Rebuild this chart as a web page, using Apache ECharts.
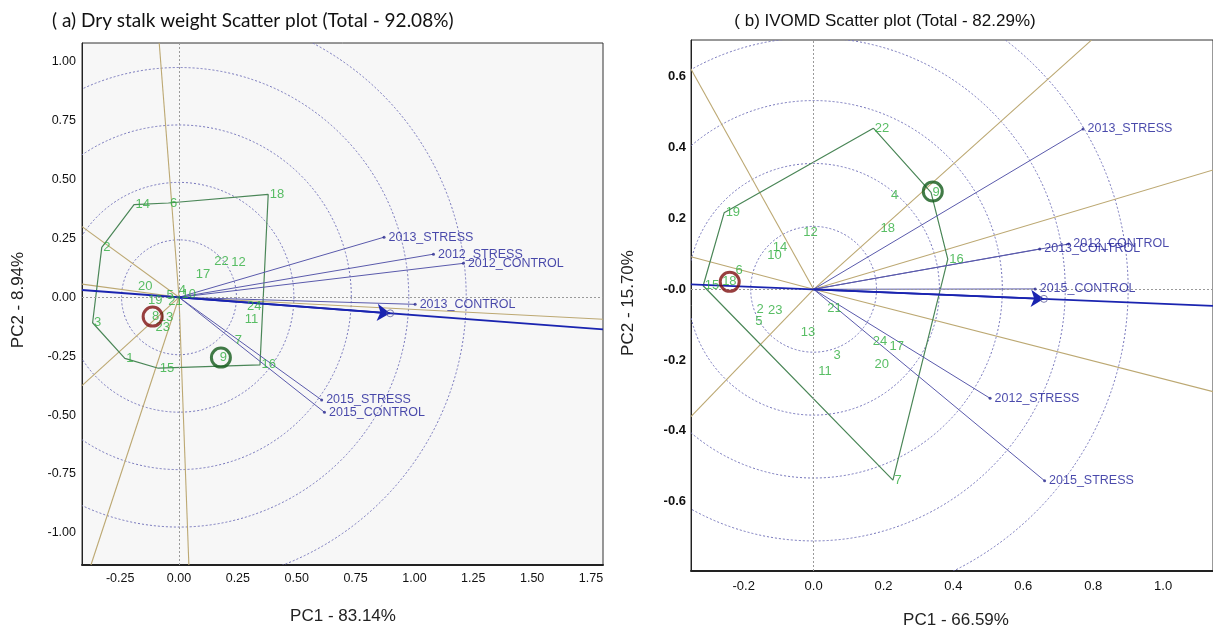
<!DOCTYPE html>
<html><head><meta charset="utf-8">
<script src="https://cdn.jsdelivr.net/npm/echarts@6/dist/echarts.min.js"></script>
<style>html,body{margin:0;padding:0;background:#fff}#c{width:1213px;height:629px}</style>
</head><body><div id="c"></div>
<script>
// ---------- Plot (a): Dry stalk weight ----------
const aGenotypes = ['1','2','3','4','5','6','7','8','9','10','11','12','13','14','15','16','17','18','19','20','21','22','23','24'];
const aGenoX = [-0.230,-0.328,-0.367,-0.007,-0.059,-0.045,0.230,-0.121,0.167,0.004,0.273,0.216,-0.092,-0.191,-0.088,0.344,0.065,0.379,-0.138,-0.180,-0.052,0.143,-0.106,0.283];
const aGenoY = [-0.259,0.212,-0.108,0.028,0.006,0.400,-0.181,-0.082,-0.256,0.014,-0.093,0.147,-0.087,0.393,-0.301,-0.287,0.099,0.437,-0.014,0.048,-0.019,0.151,-0.127,-0.040];
const aHull = ['18','6','14','2','3','1','15','16','18'];
const aEnvNames = ['2013_STRESS','2012_STRESS','2012_CONTROL','2013_CONTROL','2015_STRESS','2015_CONTROL'];
const aEnvX = [0.871,1.081,1.208,1.003,0.606,0.618];
const aEnvY = [0.255,0.183,0.144,-0.030,-0.436,-0.488];
const aMeanEnv = [0.897,-0.068];
const aAxisEnds = [[-0.412,0.031],[1.801,-0.136]];
const aRayX = [1.801,-0.412,-0.412,-0.084,-0.412,-0.374,0.042];
const aRayY = [-0.093,0.056,0.300,1.079,-0.375,-1.136,-1.136];
const aRings = [0.244,0.488,0.732,0.976,1.220];
const aMarkX = [-0.112,0.178];
const aMarkY = [-0.082,-0.256];
const aXRange = [-0.412,1.801];
const aYRange = [-1.136,1.079];
const aXTicks = [-0.25,0,0.25,0.5,0.75,1,1.25,1.5,1.75];
const aXTickLabels = ['-0.25','0.00','0.25','0.50','0.75','1.00','1.25','1.50','1.75'];
const aYTicks = [-1,-0.75,-0.5,-0.25,0,0.25,0.5,0.75,1];
const aYTickLabels = ['-1.00','-0.75','-0.50','-0.25','0.00','0.25','0.50','0.75','1.00'];

// ---------- Plot (b): IVOMD ----------
const bGenotypes = ['1','2','3','4','5','6','7','8','9','10','11','12','13','14','15','16','17','18','19','20','21','22','23','24'];
const bGenoX = [-0.266,-0.168,0.053,0.217,-0.171,-0.228,0.227,-0.246,0.336,-0.137,0.009,-0.034,-0.041,-0.121,-0.316,0.384,0.213,0.187,-0.256,0.170,0.035,0.171,-0.135,0.165];
const bGenoY = [0.021,-0.056,-0.186,0.264,-0.090,0.053,-0.539,0.021,0.274,0.095,-0.231,0.161,-0.121,0.118,0.010,0.085,-0.162,0.172,0.216,-0.212,-0.054,0.455,-0.061,-0.146];
const bHull = ['22','9','16','7','15','19','22'];
const bEnvNames = ['2013_STRESS','2012_CONTROL','2013_CONTROL','2015_CONTROL','2012_STRESS','2015_STRESS'];
const bEnvX = [0.771,0.730,0.647,0.634,0.505,0.661];
const bEnvY = [0.453,0.128,0.114,0.001,-0.308,-0.541];
const bMeanEnv = [0.659,-0.027];
const bAxisEnds = [[-0.351,0.014],[1.143,-0.047]];
const bRayX = [-0.351,-0.351,0.795,1.143,1.143,-0.351];
const bRayY = [0.622,0.092,0.704,0.337,-0.289,-0.360];
const bRings = [0.18,0.36,0.54,0.72,0.90];
const bMarkX = [-0.240,0.341];
const bMarkY = [0.021,0.276];
const bXRange = [-0.3508,1.1428];
const bYRange = [-0.7958,0.7042];
const bXTicks = [-0.2,0,0.2,0.4,0.6,0.8,1.0];
const bXTickLabels = ['-0.2','0.0','0.2','0.4','0.6','0.8','1.0'];
const bYTicks = [-0.6,-0.4,-0.2,0,0.2,0.4,0.6];
const bYTickLabels = ['-0.6','-0.4','-0.2','-0.0','0.2','0.4','0.6'];

const FONT = 'Liberation Sans, Arial, sans-serif';
const GREEN_TXT = '#2fae3e', HULL = '#4a8657', TAN = '#bca872', VEC = '#5a5aac', ENVTXT = '#1c1c96', AXISBLUE = '#1a24b0', RING = '#7676bc';

function fmt(ticks, labels){
  return v => { const i = ticks.findIndex(t => Math.abs(t - v) < 1e-9); return i >= 0 ? labels[i] : ''; };
}

function plotSeries(gi, P){
  const idx = {};
  P.geno.forEach((g,i)=>idx[g]=i);
  const S = [];
  S.push({type:'custom', xAxisIndex:gi, yAxisIndex:gi, clip:true, silent:true, z:1,
    data: P.rings.map(r=>[r,0]),
    renderItem:(params, api)=>{
      const c = api.coord([0,0]); const s = api.size([api.value(0), api.value(0)]);
      return {type:'circle', shape:{cx:c[0], cy:c[1], r:s[0]},
        style:{fill:'none', stroke:RING, lineWidth:1, lineDash:[2,2]}};
    }});
  S.push({type:'lines', coordinateSystem:'cartesian2d', xAxisIndex:gi, yAxisIndex:gi, silent:true, z:2,
    lineStyle:{color:TAN, width:1.1, opacity:1, curveness:0},
    data: P.rayX.map((x,i)=>({coords:[[0,0],[x,P.rayY[i]]]}))});
  S.push({type:'line', xAxisIndex:gi, yAxisIndex:gi, silent:true, z:3, symbol:'none',
    lineStyle:{color:HULL, width:1.2},
    data: P.hull.map(g=>[P.x[idx[g]], P.y[idx[g]]]),
    markLine:{silent:true, symbol:'none', label:{show:false}, animation:false,
      lineStyle:{color:'#9a9a9a', type:[2,2], width:1},
      data:[{xAxis:0},{yAxis:0}]}});
  S.push({type:'lines', coordinateSystem:'cartesian2d', xAxisIndex:gi, yAxisIndex:gi, silent:true, z:4,
    lineStyle:{color:VEC, width:1, opacity:1},
    data: P.envX.map((x,i)=>({coords:[[0,0],[x,P.envY[i]]]}))});
  S.push({type:'scatter', xAxisIndex:gi, yAxisIndex:gi, silent:true, z:6, symbolSize:3,
    itemStyle:{color:'#2a2a90'},
    label:{show:true, position:'right', distance:3, formatter:'{b}', color:ENVTXT, fontSize:12.5, fontFamily:FONT},
    data: P.envNames.map((n,i)=>({name:n, value:[P.envX[i], P.envY[i]]}))});
  S.push({type:'lines', coordinateSystem:'cartesian2d', xAxisIndex:gi, yAxisIndex:gi, silent:true, z:5,
    lineStyle:{color:AXISBLUE, width:1.8, opacity:1},
    data:[{coords:P.axisEnds}]});
  S.push({type:'lines', coordinateSystem:'cartesian2d', xAxisIndex:gi, yAxisIndex:gi, silent:true, z:5,
    symbol:['none','arrow'], symbolSize:13,
    lineStyle:{color:AXISBLUE, width:1.8, opacity:1},
    data:[{coords:[[0,0],P.mean]}]});
  S.push({type:'scatter', xAxisIndex:gi, yAxisIndex:gi, silent:true, z:6, symbol:'circle', symbolSize:7,
    itemStyle:{color:'rgba(0,0,0,0)', borderColor:'#5a5a9a', borderWidth:1},
    data:[P.mean]});
  S.push({type:'scatter', xAxisIndex:gi, yAxisIndex:gi, silent:true, z:8, symbolSize:1,
    itemStyle:{color:'rgba(0,0,0,0)'},
    label:{show:true, position:'right', distance:1, formatter:'{b}', color:GREEN_TXT, fontSize:13, fontFamily:FONT},
    data: P.geno.map((g,i)=>({name:g, value:[P.x[i], P.y[i]]}))});
  S.push({type:'scatter', xAxisIndex:gi, yAxisIndex:gi, silent:true, z:9, symbol:'circle', symbolSize:19,
    data:[
      {value:[P.markX[0],P.markY[0]], itemStyle:{color:'rgba(0,0,0,0)', borderColor:'#7e0f0f', borderWidth:3}},
      {value:[P.markX[1],P.markY[1]], itemStyle:{color:'rgba(0,0,0,0)', borderColor:'#115a19', borderWidth:3}}
    ]});
  return S;
}

const A = {geno:aGenotypes, x:aGenoX, y:aGenoY, hull:aHull, envNames:aEnvNames, envX:aEnvX, envY:aEnvY, mean:aMeanEnv, axisEnds:aAxisEnds, rayX:aRayX, rayY:aRayY, rings:aRings, markX:aMarkX, markY:aMarkY};
const B = {geno:bGenotypes, x:bGenoX, y:bGenoY, hull:bHull, envNames:bEnvNames, envX:bEnvX, envY:bEnvY, mean:bMeanEnv, axisEnds:bAxisEnds, rayX:bRayX, rayY:bRayY, rings:bRings, markX:bMarkX, markY:bMarkY};

function xAx(gi, range, ticks, labels){
  return {type:'value', gridIndex:gi, min:range[0], max:range[1], splitLine:{show:false},
    axisTick:{show:false},
    axisLine:{show:true, onZero:false, lineStyle:{color:'#222', width:2}},
    axisLabel:{customValues:ticks, formatter:fmt(ticks,labels), color:'#111', fontSize:gi===0?12.5:13, fontFamily:FONT, margin:gi===0?7:9}};
}
function yAx(gi, range, ticks, labels){
  return {type:'value', gridIndex:gi, min:range[0], max:range[1], splitLine:{show:false},
    axisTick:{show:false},
    axisLine:{show:true, onZero:false, lineStyle:{color:'#222', width:1}},
    axisLabel:{customValues:ticks, formatter:fmt(ticks,labels), color:'#111', fontSize:gi===0?12.5:13, fontWeight:gi===0?'normal':'bold', fontFamily:FONT, margin:gi===0?6:5}};
}

const chart = echarts.init(document.getElementById('c'), null, {renderer:'canvas'});
chart.setOption({
  animation:false,
  backgroundColor:'#fff',
  grid:[
    {left:82, top:43, width:521, height:522, show:true, backgroundColor:'#f7f7f7', borderColor:'#333', borderWidth:1, containLabel:false},
    {left:691, top:40, width:525, height:531, show:true, backgroundColor:'#ffffff', borderColor:'#333', borderWidth:1, containLabel:false}
  ],
  xAxis:[xAx(0,aXRange,aXTicks,aXTickLabels), xAx(1,bXRange,bXTicks,bXTickLabels)],
  yAxis:[yAx(0,aYRange,aYTicks,aYTickLabels), yAx(1,bYRange,bYTicks,bYTickLabels)],
  graphic:[
    {type:'text', x:52, y:21, style:{text:'( a) Dry stalk weight Scatter plot (Total - 92.08%)', font:'19px Lato, sans-serif', fill:'#111', textAlign:'left', textVerticalAlign:'middle'}},
    {type:'text', x:885, y:21, style:{text:'( b) IVOMD Scatter plot (Total - 82.29%)', font:'17px Liberation Sans, Arial, sans-serif', fill:'#111', textAlign:'center', textVerticalAlign:'middle'}},
    {type:'text', x:18, y:300, rotation:Math.PI/2, style:{text:'PC2 - 8.94%', font:'17px Liberation Sans, Arial, sans-serif', fill:'#222', textAlign:'center', textVerticalAlign:'middle'}},
    {type:'text', x:343, y:616, style:{text:'PC1 - 83.14%', font:'17px Liberation Sans, Arial, sans-serif', fill:'#222', textAlign:'center', textVerticalAlign:'middle'}},
    {type:'text', x:628, y:303, rotation:Math.PI/2, style:{text:'PC2 - 15.70%', font:'17px Liberation Sans, Arial, sans-serif', fill:'#222', textAlign:'center', textVerticalAlign:'middle'}},
    {type:'text', x:956, y:620, style:{text:'PC1 - 66.59%', font:'17px Liberation Sans, Arial, sans-serif', fill:'#222', textAlign:'center', textVerticalAlign:'middle'}}
  ],
  series:[...plotSeries(0,A), ...plotSeries(1,B)]
});
</script></body></html>
